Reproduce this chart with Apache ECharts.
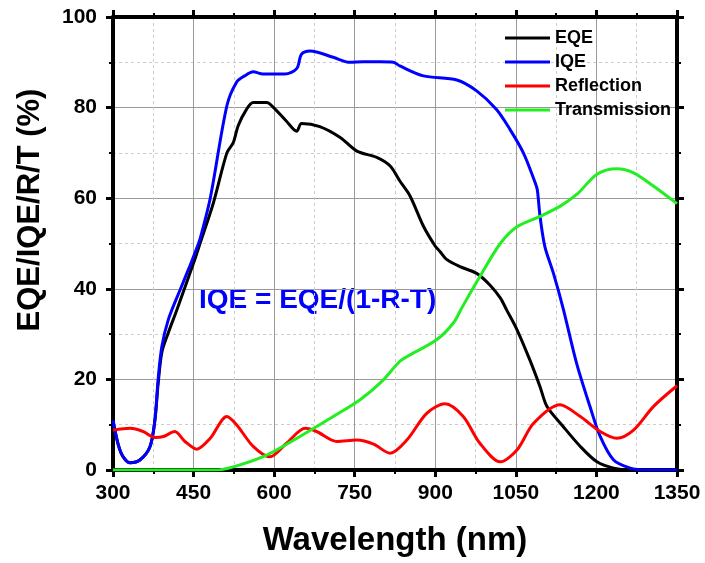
<!DOCTYPE html>
<html>
<head>
<meta charset="utf-8">
<script src="https://cdn.jsdelivr.net/npm/echarts@6/dist/echarts.min.js"></script>
<style>
  html, body { margin: 0; padding: 0; background: #fff; }
  #chart { width: 705px; height: 563px; }
</style>
</head>
<body>
<div id="chart"></div>
<script>
// dados (nm, %)
const eqeX = [300, 310, 319, 332, 350, 369, 378, 384, 391, 403, 419, 450, 462, 487, 512, 524, 533, 548, 561, 586, 599, 623, 642, 651, 685, 723, 754, 791, 816, 834, 853, 878, 900, 909, 921, 946, 977, 1002, 1021, 1033, 1052, 1076, 1095, 1108, 1138, 1170, 1201, 1232, 1262, 1300, 1350];
const eqeY = [11, 5.5, 2.9, 1.6, 2.2, 5.2, 11, 19, 26, 30.3, 35.4, 45.7, 50, 59, 70, 72.3, 76, 79.5, 81.1, 81.1, 80, 77, 74.8, 76.5, 75.8, 73.4, 70.4, 69, 67.1, 63.8, 60.5, 53.8, 49.4, 48.2, 46.5, 44.9, 43.4, 40.8, 38, 35.3, 31, 24.3, 18.4, 14, 9.6, 5.2, 1.8, 0.4, 0, 0, 0];

const iqeX = [300, 310, 319, 332, 350, 369, 378, 384, 391, 403, 425, 443, 456, 462, 481, 512, 530, 545, 561, 579, 620, 642, 651, 667, 710, 741, 766, 797, 822, 834, 878, 940, 977, 1014, 1039, 1064, 1086, 1090, 1095, 1104, 1120, 1138, 1163, 1188, 1207, 1232, 1263, 1290, 1350];
const iqeY = [11, 5.5, 2.9, 1.6, 2.2, 5.2, 11, 20, 27.3, 33.2, 39.8, 45, 49, 51, 60, 80.4, 85.6, 87, 87.9, 87.4, 87.4, 88.6, 91.8, 92.5, 91.1, 90, 90.1, 90.1, 90, 89.2, 87, 86.1, 83.7, 79.6, 75.2, 70, 63.4, 61.8, 56, 49.3, 43.4, 35.7, 23.6, 14, 7.4, 2.2, 0.4, 0, 0];

const reflX = [300, 332, 356, 378, 394, 415, 434, 456, 481, 512, 530, 561, 592, 623, 658, 679, 717, 754, 785, 816, 847, 884, 918, 952, 983, 1021, 1052, 1083, 1132, 1170, 1207, 1238, 1269, 1306, 1350];
const reflY = [8.8, 9.2, 8.5, 7.2, 7.4, 8.5, 6.3, 4.6, 7.0, 11.8, 10, 5.2, 2.9, 5.9, 9.2, 8.5, 6.3, 6.6, 5.7, 3.7, 6.6, 12.5, 14.6, 11.8, 5.9, 1.8, 4.4, 10.3, 14.4, 11.8, 8.5, 7.0, 8.8, 14, 18.6];

const transX = [300, 490, 524, 586, 648, 710, 760, 800, 834, 847, 903, 934, 949, 983, 1021, 1052, 1095, 1132, 1165, 1201, 1238, 1269, 1306, 1350];
const transY = [0, 0, 0.7, 3.3, 7.4, 11.8, 15.5, 19.5, 24, 25, 28.8, 32.5, 35.7, 42.7, 50, 53.7, 56, 58.2, 61, 65.3, 66.5, 65.6, 62.7, 58.8];

const seriesNames = ['EQE', 'IQE', 'Reflection', 'Transmission'];
const seriesColors = ['#000000', '#0000ff', '#ff0000', '#22ee22'];
const xTicks = { min: 300, max: 1350, step: 150 };
const yTicks = { min: 0, max: 100, step: 20 };

const FONT = '"Liberation Sans", Arial, sans-serif';

const zip = (xs, ys) => xs.map((x, i) => [x, ys[i]]);
const seriesData = [zip(eqeX, eqeY), zip(iqeX, iqeY), zip(reflX, reflY), zip(transX, transY)];

const chart = echarts.init(document.getElementById('chart'));

const axisLine = { show: true, onZero: false, lineStyle: { color: '#000', width: 4 } };
const axisTick = { show: true, inside: false, length: 7, lineStyle: { color: '#000', width: 3 } };
const minorTick = { show: true, splitNumber: 2, length: 4, lineStyle: { color: '#000', width: 2 } };

const option = {
    backgroundColor: '#fff',
    animation: false,
    grid: { left: 113, right: 28, top: 17, bottom: 93 },
    legend: {
        orient: 'vertical',
        left: 500,
        top: 23,
        itemWidth: 45,
        itemHeight: 3,
        itemGap: 4,
        icon: 'rect',
        data: seriesNames,
        textStyle: { fontFamily: FONT, fontWeight: 'bold', fontSize: 18, lineHeight: 20, color: '#000' }
    },
    xAxis: [{
        type: 'value', position: 'bottom',
        min: xTicks.min, max: xTicks.max, interval: xTicks.step,
        name: 'Wavelength (nm)', nameLocation: 'middle', nameGap: 54,
        nameTextStyle: { fontFamily: FONT, fontWeight: 'bold', fontSize: 33, color: '#000' },
        axisLine, axisTick, minorTick,
        axisLabel: { margin: 13, fontFamily: FONT, fontWeight: 'bold', fontSize: 21, color: '#000', formatter: v => String(v) },
        splitLine: { show: true, lineStyle: { color: '#9a9a9a', width: 1 } },
        minorSplitLine: { show: true, lineStyle: { color: '#cccccc', width: 1, type: [3, 3] } }
    }, {
        type: 'value', position: 'top',
        min: xTicks.min, max: xTicks.max, interval: xTicks.step,
        axisLine, axisTick, minorTick,
        axisLabel: { show: false }, splitLine: { show: false }
    }],
    yAxis: [{
        type: 'value', position: 'left',
        min: yTicks.min, max: yTicks.max, interval: yTicks.step,
        axisLine, axisTick, minorTick,
        axisLabel: { margin: 16, fontFamily: FONT, fontWeight: 'bold', fontSize: 21, color: '#000' },
        splitLine: { show: true, lineStyle: { color: '#9a9a9a', width: 1 } },
        minorSplitLine: { show: true, lineStyle: { color: '#cccccc', width: 1, type: [3, 3] } }
    }, {
        type: 'value', position: 'right',
        min: yTicks.min, max: yTicks.max, interval: yTicks.step,
        axisLine, axisTick, minorTick,
        axisLabel: { show: false }, splitLine: { show: false }
    }],
    graphic: [{
        // título do eixo Y (um pouco acima do centro, como no original)
        type: 'text',
        x: 30,
        y: 210,
        rotation: Math.PI / 2,
        style: {
            text: 'EQE/IQE/R/T (%)',
            fill: '#000',
            font: 'bold 31px ' + FONT,
            align: 'center',
            verticalAlign: 'middle'
        }
    }, {
        type: 'text',
        left: 199,
        top: 286,
        style: {
            text: 'IQE = EQE/(1-R-T)',
            fill: '#0000ff',
            font: 'bold 28px ' + FONT
        }
    }],
    series: seriesNames.map((name, i) => ({
        name,
        type: 'line',
        xAxisIndex: 0,
        yAxisIndex: 0,
        data: seriesData[i],
        showSymbol: false,
        smooth: 0.3,
        color: seriesColors[i],
        lineStyle: { color: seriesColors[i], width: 3 },
        z: 3
    }))
};

chart.setOption(option);
</script>
</body>
</html>
